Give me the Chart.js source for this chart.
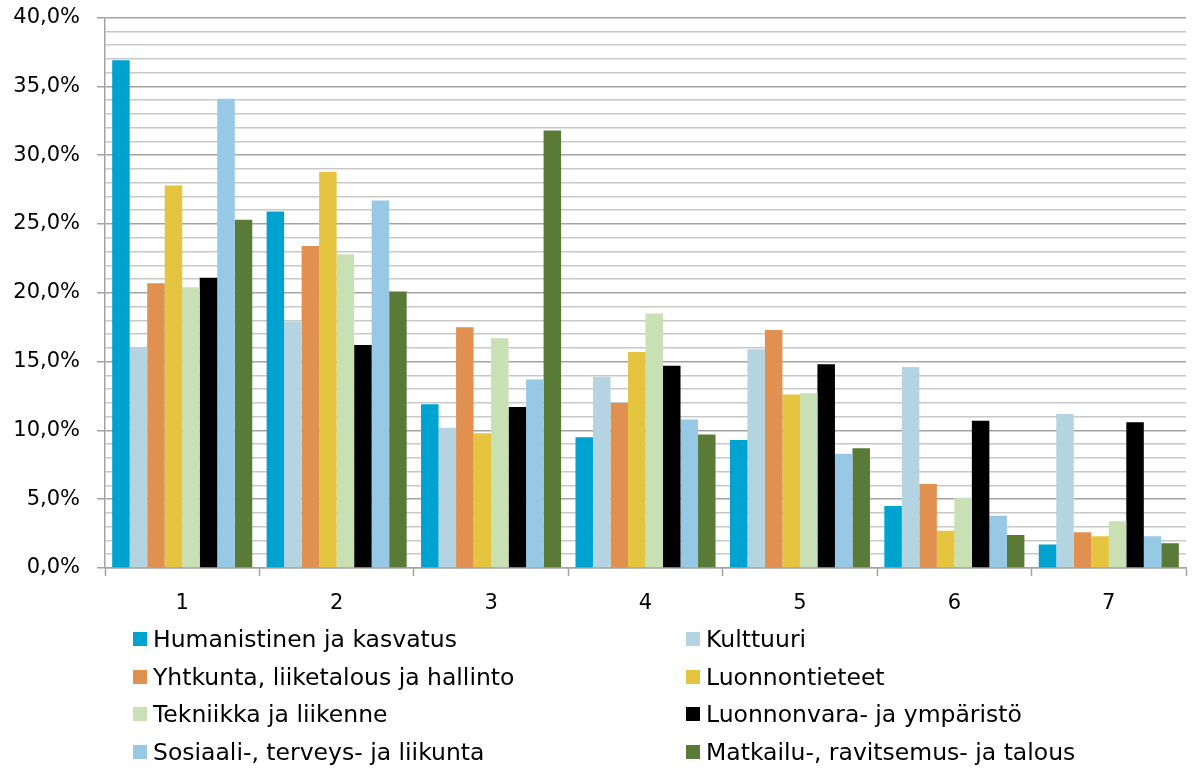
<!DOCTYPE html>
<html lang="fi">
<head>
<meta charset="utf-8">
<title>Koulutusalat</title>
<script src="https://cdn.jsdelivr.net/npm/chart.js@4.4.1/dist/chart.umd.min.js"></script>
<style>
  html, body { margin: 0; padding: 0; background: #fff; overflow: hidden; }
  #wrap { position: relative; width: 1196px; height: 768px; overflow: hidden; }
  #chartBox { position: absolute; left: 0; top: -12px; width: 1196px; height: 637px; }
  #legend {
    position: absolute; left: 133px; top: 620px;
    display: grid; grid-template-columns: 553px auto; grid-auto-rows: 37.7px;
    font-family: "DejaVu Sans", sans-serif; font-size: 23.5px; color: #000;
  }
  .legend-item { display: flex; align-items: center; white-space: nowrap; }
  .legend-box { width: 14px; height: 14px; margin-right: 6px; flex: none; }
</style>
</head>
<body>
<div id="wrap">
  <div id="chartBox"><canvas id="chart"></canvas></div>
  <div id="legend"></div>
</div>
<script>
// Categories on the x axis
const categories = ['1', '2', '3', '4', '5', '6', '7'];

// Series names and colours (same order as the legend)
const seriesNames = [
  'Humanistinen ja kasvatus',
  'Kulttuuri',
  'Yhtkunta, liiketalous ja hallinto',
  'Luonnontieteet',
  'Tekniikka ja liikenne',
  'Luonnonvara- ja ympäristö',
  'Sosiaali-, terveys- ja liikunta',
  'Matkailu-, ravitsemus- ja talous'
];
const seriesColors = ['#00A3D0', '#B4D4E1', '#E0914F', '#E5C43F', '#C9DFB4', '#000000', '#97C9E7', '#5A7A37'];

// Values in percent
const humanistinen = [36.9, 25.9, 11.9, 9.5, 9.3, 4.5, 1.7];
const kulttuuri = [16.0, 17.9, 10.2, 13.9, 15.9, 14.6, 11.2];
const yhteiskunta = [20.7, 23.4, 17.5, 12.0, 17.3, 6.1, 2.6];
const luonnontieteet = [27.8, 28.8, 9.8, 15.7, 12.6, 2.7, 2.3];
const tekniikka = [20.4, 22.8, 16.7, 18.5, 12.7, 5.1, 3.4];
const luonnonvara = [21.1, 16.2, 11.7, 14.7, 14.8, 10.7, 10.6];
const sosiaali = [34.1, 26.7, 13.7, 10.8, 8.3, 3.8, 2.3];
const matkailu = [25.3, 20.1, 31.8, 9.7, 8.7, 2.4, 1.8];

const seriesValues = [humanistinen, kulttuuri, yhteiskunta, luonnontieteet, tekniikka, luonnonvara, sosiaali, matkailu];

// Y axis: 0..40 %, labels every 5 %, minor lines every 1 %
const yMin = 0;
const yMax = 40;
const yMinorStep = 1;
const yMajorStep = 5;

const fontFamily = '"DejaVu Sans", sans-serif';
const majorGrid = '#A3A3A3';
const minorGrid = '#C8C8C8';

function formatPercent(v) {
  return v.toFixed(1).replace('.', ',') + '%';
}

const datasets = seriesNames.map((name, i) => ({
  label: name,
  data: seriesValues[i],
  backgroundColor: seriesColors[i],
  borderWidth: 0,
  categoryPercentage: 0.907,
  barPercentage: 1.0
}));

const ctx = document.getElementById('chart').getContext('2d');
const chart = new Chart(ctx, {
  type: 'bar',
  data: { labels: categories, datasets: datasets },
  options: {
    responsive: true,
    maintainAspectRatio: false,
    animation: false,
    layout: { padding: { top: 6, right: 10, left: 0, bottom: 0 } },
    plugins: {
      legend: { display: false },
      tooltip: { enabled: false }
    },
    scales: {
      x: {
        offset: true,
        grid: {
          offset: true,
          drawOnChartArea: false,
          drawTicks: true,
          tickLength: 8,
          tickColor: majorGrid,
          tickWidth: 1.5
        },
        border: { color: majorGrid, width: 1.5 },
        ticks: {
          color: '#000',
          padding: 15,
          font: { family: fontFamily, size: 21 }
        },
        afterFit: (scale) => { scale.height = 57; }
      },
      y: {
        min: yMin,
        max: yMax,
        ticks: {
          stepSize: yMinorStep,
          autoSkip: false,
          maxTicksLimit: 100,
          color: '#000',
          padding: 17,
          font: { family: fontFamily, size: 21 },
          callback: (v) => (v % yMajorStep === 0 ? formatPercent(v) : '')
        },
        grid: {
          color: (c) => (c.tick && c.tick.value % yMajorStep === 0 ? majorGrid : minorGrid),
          lineWidth: 1.5,
          tickLength: 8,
          tickColor: (c) => (c.tick && c.tick.value % yMajorStep === 0 ? majorGrid : 'rgba(0,0,0,0)'),
          tickWidth: 1.5
        },
        border: { color: majorGrid, width: 1.5 },
        afterFit: (scale) => { scale.width = 105; }
      }
    }
  }
});

// Two-column legend built from the chart's datasets
const legendEl = document.getElementById('legend');
chart.data.datasets.forEach(ds => {
  const item = document.createElement('div');
  item.className = 'legend-item';
  const box = document.createElement('span');
  box.className = 'legend-box';
  box.style.backgroundColor = ds.backgroundColor;
  const text = document.createElement('span');
  text.textContent = ds.label;
  item.appendChild(box);
  item.appendChild(text);
  legendEl.appendChild(item);
});
</script>
</body>
</html>
